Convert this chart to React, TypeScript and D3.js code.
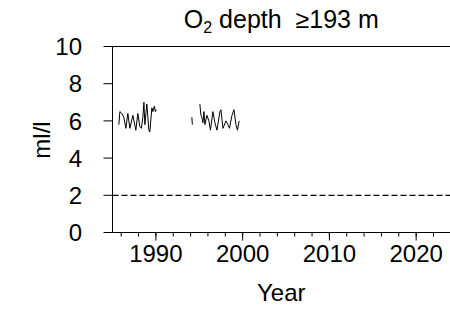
import React from "react";
import * as d3 from "d3";

const years: number[] = [
  1985.73, 1985.85, 1986.08, 1986.3, 1986.54, 1986.77, 1987.0, 1987.35, 1987.69, 1987.92,
  1988.15, 1988.33, 1988.5, 1988.62, 1988.73, 1988.85, 1988.96, 1989.19, 1989.3, 1989.54,
  1989.65, 1989.83, 1989.94, 1990.05,
  1992.0,
  1994.15, 1994.2,
  1994.6,
  1995.07, 1995.19, 1995.3, 1995.42, 1995.54, 1995.65, 1995.88, 1996.11, 1996.29, 1996.57,
  1996.8, 1997.04, 1997.38, 1997.5, 1997.73, 1998.08, 1998.3, 1998.48, 1998.77, 1999.0,
  1999.23, 1999.4, 1999.6,
];
const oxygen: (number | null)[] = [
  5.8, 6.5, 6.4, 6.2, 5.6, 6.4, 5.6, 6.3, 5.5, 6.4,
  5.7, 5.6, 6.2, 7.0, 5.8, 6.4, 6.9, 5.5, 5.4, 6.7,
  6.5, 6.8, 6.5, 6.6,
  null,
  6.2, 5.8,
  null,
  6.9, 6.3, 6.2, 5.9, 6.5, 5.8, 6.3, 6.0, 5.5, 6.5,
  5.9, 5.5, 6.5, 6.6, 5.6, 6.0, 5.8, 5.6, 6.3, 6.6,
  5.8, 5.5, 6.0,
];
const yTicks: number[] = [0, 2, 4, 6, 8, 10];
const xMajorTicks: number[] = [1990, 2000, 2010, 2020];
const xMinorTicks: number[] = d3.range(1986, 2025, 2);
const threshold = 2;
const title = "depth";

export default function App() {
  const W = 450, H = 311;
  const left = 112.5, right = 450, top = 46.5, bottom = 232.5;
  const x = d3.scaleLinear().domain([1985, 2023.9]).range([left, right]);
  const y = d3.scaleLinear().domain([0, 10]).range([bottom, top]);
  const pts = years.map((yr, i) => ({ yr, v: oxygen[i] }));
  const line = d3
    .line<{ yr: number; v: number | null }>()
    .defined((d) => d.v !== null)
    .x((d) => x(d.yr))
    .y((d) => y(d.v as number));
  const font = "'Liberation Sans', Arial, sans-serif";
  return (
    <svg
      width={W}
      height={H}
      style={{ position: "absolute", left: 0, top: 0, background: "#fff" }}
      fontFamily={font}
    >
      <rect width={W} height={H} fill="#fff" />
      {/* title */}
      <text x={(left + right) / 2} y={28} fontSize={25} textAnchor="middle" fill="#000">
        O<tspan fontSize={16} dy={5}>2</tspan>
        <tspan dy={-5}>{"\u00a0" + title + "\u00a0\u00a0≥193 m"}</tspan>
      </text>
      {/* top border */}
      <line x1={left} x2={right} y1={top} y2={top} stroke="#000" strokeWidth={1} />
      {/* y axis */}
      <line x1={left} x2={left} y1={top} y2={bottom} stroke="#000" strokeWidth={1} />
      {yTicks.map((t) => (
        <g key={"y" + t}>
          <line x1={left - 9} x2={left} y1={y(t)} y2={y(t)} stroke="#000" />
          <text x={82} y={y(t)} dy="0.36em" fontSize={24} textAnchor="end" fill="#000">
            {t}
          </text>
        </g>
      ))}
      {/* x axis */}
      <line x1={left} x2={right} y1={bottom} y2={bottom} stroke="#000" strokeWidth={1} />
      {xMinorTicks.map((t) => (
        <line key={"m" + t} x1={x(t)} x2={x(t)} y1={bottom} y2={bottom + 4} stroke="#000" />
      ))}
      {xMajorTicks.map((t) => (
        <g key={"x" + t}>
          <line x1={x(t)} x2={x(t)} y1={bottom} y2={bottom + 8} stroke="#000" />
          <text x={x(t)} y={262} fontSize={24} textAnchor="middle" fill="#000">
            {t}
          </text>
        </g>
      ))}
      {/* axis titles */}
      <text x={(left + right) / 2} y={301} fontSize={24} textAnchor="middle" fill="#000">
        Year
      </text>
      <text
        transform="translate(50,140) rotate(-90)"
        fontSize={24}
        textAnchor="middle"
        fill="#000"
      >
        ml/l
      </text>
      {/* threshold */}
      <line
        x1={left}
        x2={right}
        y1={y(threshold)}
        y2={y(threshold)}
        stroke="#000"
        strokeWidth={1.2}
        strokeDasharray="6,3"
      />
      {/* data */}
      <path d={line(pts) || ""} fill="none" stroke="#000" strokeWidth={1} />
    </svg>
  );
}
